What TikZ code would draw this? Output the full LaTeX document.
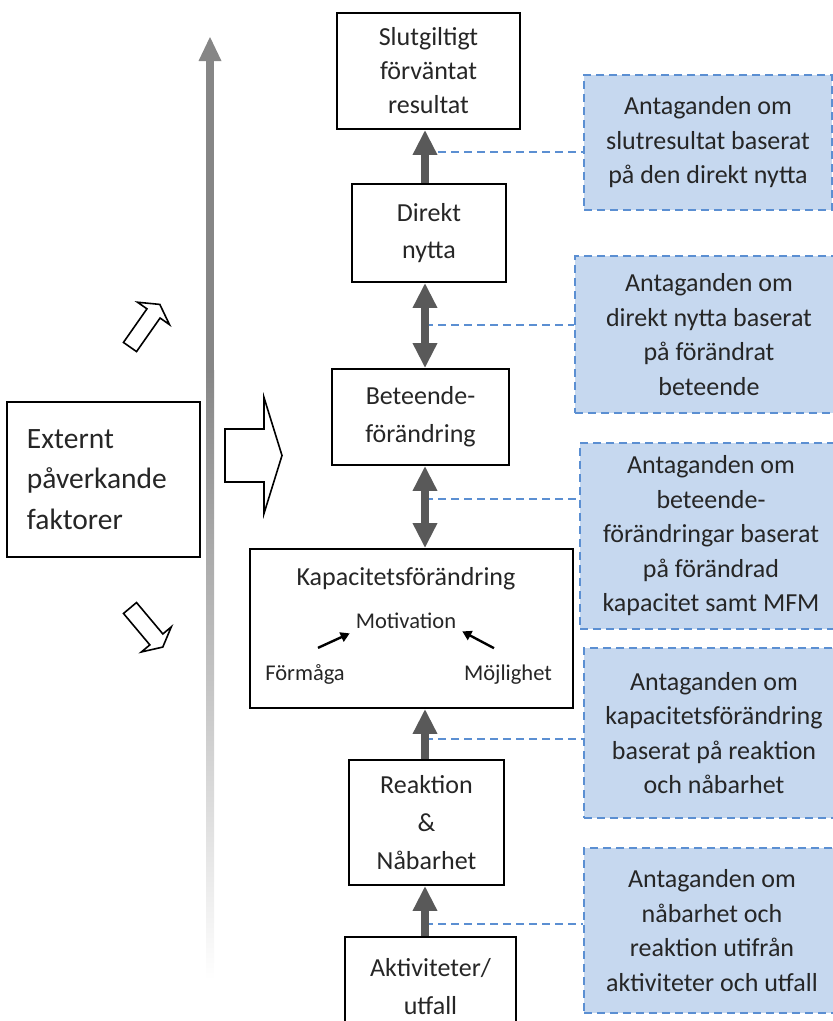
\documentclass[tikz,border=0pt]{standalone}
\usepackage{fontspec}
\setmainfont{Carlito}
\usetikzlibrary{calc}
\usetikzlibrary{arrows.meta,positioning}

\definecolor{flowgray}{HTML}{595959}
\definecolor{axisgray}{HTML}{868686}
\definecolor{noteblue}{HTML}{5B8FD2}
\definecolor{notefill}{HTML}{C6D8EF}
\definecolor{inktext}{HTML}{262626}

% hollow block arrow: position, angle, length, shaft width, head width, head length
\newcommand{\hollowarrow}[6]{%
  \begin{scope}[shift={#1},rotate=#2]
    \draw[line width=1.6pt,fill=white]
      (0,{-#4/2}) -- ({#3-#6},{-#4/2}) -- ({#3-#6},{-#5/2}) -- (#3,0)
      -- ({#3-#6},{#5/2}) -- ({#3-#6},{#4/2}) -- (0,{#4/2}) -- cycle;
  \end{scope}}

\begin{document}
\begin{tikzpicture}[x=1pt,y=-1pt,
  box/.style={rectangle,draw=black,line width=1.8pt,fill=white,text=inktext,align=center,inner sep=0pt,font=\fontsize{26}{34}\selectfont},
  note/.style={rectangle,draw=noteblue,fill=notefill,text=inktext,line width=1.6pt,dash pattern=on 8pt off 5pt,align=center,inner sep=0pt,minimum width=248pt,font=\fontsize{26}{34.5}\selectfont},
  flow/.style={line width=8pt,draw=flowgray,-{Triangle[width=23pt,length=25pt]}},
  flowboth/.style={flow,{Triangle[width=23pt,length=25pt]}-{Triangle[width=23pt,length=25pt]}},
  link/.style={draw=noteblue,line width=1.6pt,dash pattern=on 8pt off 5pt},
  small/.style={inner sep=0pt,text=inktext,font=\fontsize{22.5}{27}\selectfont},
  tip/.style={line width=2.4pt,-{Triangle[width=10pt,length=9pt]}}]

\useasboundingbox (0,0) rectangle (833,1021);
\clip (0,0) rectangle (833,1021);

\coordinate (AXIS) at (425,0);

%%%%%%%%%%%%%%%%%%%
% draw time axis
\fill[axisgray] (206,58) rectangle (214,371);
\shade[top color=axisgray,bottom color=white] (206,370) rectangle (214,980);
\fill[axisgray] (210,37) -- (221.5,61) -- (198.5,61) -- cycle;

%%%%%%%%%%%%%%%%%%%
% draw external factors
\node[box,align=left,text width=153pt,inner xsep=20pt,minimum height=155pt,font=\fontsize{29.5}{40.5}\selectfont] at (103.5,479.5) (extern) {Externt\\påverkande\\faktorer};
\hollowarrow{(225,455.5)}{0}{57}{53}{116}{18}
\hollowarrow{(130,347)}{55}{52}{16}{39}{11}
\hollowarrow{(130,608)}{-50}{51}{17}{39}{10}

%%%%%%%%%%%%%%%%%%%
% draw chain
\node[box,minimum width=183pt,minimum height=116pt] at (428.5,71) (slut) {Slutgiltigt\\förväntat\\resultat};
\node[box,minimum width=154pt,minimum height=98pt,font=\fontsize{26}{37}\selectfont] at (429,233) (direkt) {Direkt\\nytta};
\node[box,minimum width=177pt,minimum height=96pt,font=\fontsize{26}{38}\selectfont] at (420.5,417) (beteende) {Beteende-\\förändring};
\node[box,minimum width=323pt,minimum height=159pt] at (411.5,628.5) (kap) {};
\node[box,minimum width=155pt,minimum height=125pt,font=\fontsize{26}{38}\selectfont] at (426.5,822.5) (reaktion) {Reaktion\\\&\\Nåbarhet};
\node[box,minimum width=171pt,minimum height=100pt,font=\fontsize{26}{38}\selectfont] at (430.5,987) (aktiv) {Aktiviteter/\\utfall};

% inside capacity box
\node[inner sep=0pt,anchor=base,text=inktext,font=\fontsize{26}{30}\selectfont] at (406,585) (kaptitle) {Kapacitetsförändring};
\node[small,anchor=base] at (406,628) (motiv) {Motivation};
\node[small,anchor=base] at (305,680) (formaga) {Förmåga};
\node[small,anchor=base] at (508,680) (mojlig) {Möjlighet};
\draw[tip] ($(formaga.north)+(13,-16)$) -- ($(motiv.south west)+(-6,5)$);
\draw[tip] ($(mojlig.north)+(-14,-16)$) -- ($(motiv.south east)+(6,3)$);

%%%%%%%%%%%%%%%%%%%
% draw assumptions
\node[note,minimum height=135pt] at (708,142.5) (n1) {Antaganden om\\slutresultat baserat\\på den direkt nytta};
\node[note,minimum width=268pt,minimum height=157pt] at (709,334.5) (n2) {Antaganden om\\direkt nytta baserat\\på förändrat\\beteende};
\node[note,minimum width=262pt,minimum height=186pt] at (711,536) (n3) {Antaganden om\\beteende-\\förändringar baserat\\på förändrad\\kapacitet samt MFM};
\node[note,minimum width=260pt,minimum height=170pt] at (714,733) (n4) {Antaganden om\\kapacitetsförändring\\baserat på reaktion\\och nåbarhet};
\node[note,minimum width=256pt,minimum height=165pt] at (712,930.5) (n5) {Antaganden om\\nåbarhet och\\reaktion utifrån\\aktiviteter och utfall};

\coordinate (L1) at (425,152);
\coordinate (L2) at (425,325);
\coordinate (L3) at (425,499);
\coordinate (L4) at (425,739);
\coordinate (L5) at (425,924);
\draw[link] (L1) -- (L1 -| n1.west);
\draw[link] (L2) -- (L2 -| n2.west);
\draw[link] (L3) -- (L3 -| n3.west);
\draw[link] (L4) -- (L4 -| n4.west);
\draw[link] (L5) -- (L5 -| n5.west);

% draw arrows
\draw[flow] (direkt.north -| AXIS) -- (slut.south -| AXIS);
\draw[flowboth] (beteende.north -| AXIS) -- (direkt.south -| AXIS);
\draw[flowboth] (kap.north -| AXIS) -- (beteende.south -| AXIS);
\draw[flow] (reaktion.north -| AXIS) -- (kap.south -| AXIS);
\draw[flow] (aktiv.north -| AXIS) -- (reaktion.south -| AXIS);

\end{tikzpicture}
\end{document}
